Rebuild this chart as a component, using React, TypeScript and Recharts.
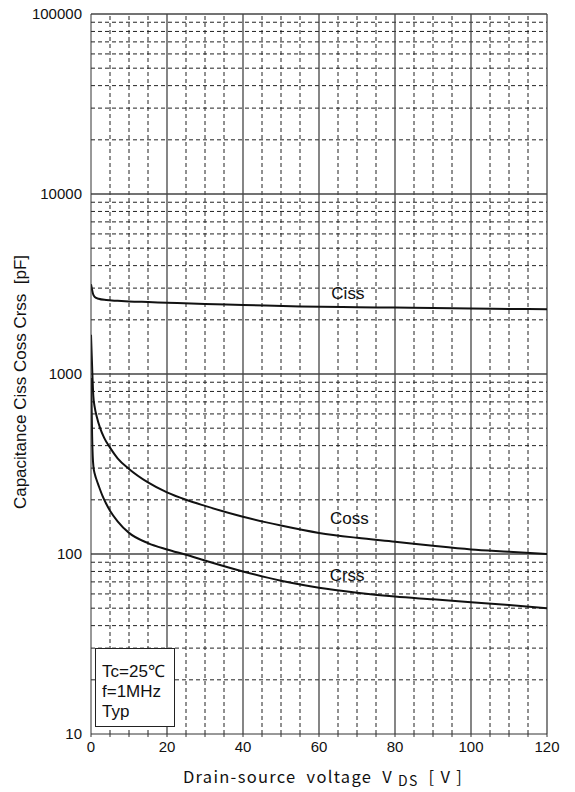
import React from 'react';
import { LineChart, Line, XAxis, YAxis, ReferenceLine, ReferenceDot, Label } from 'recharts';

// ---- data ----
const cissV = [0, 0.2, 0.5, 1, 2, 4, 7, 10, 15, 20, 30, 40, 55, 70, 80, 90, 100, 110, 120];
const cissC = [3150, 3000, 2800, 2680, 2620, 2575, 2550, 2530, 2510, 2490, 2450, 2420, 2370, 2350, 2340, 2330, 2310, 2300, 2290];

const cossV = [0, 0.2, 0.4, 0.6, 1, 1.5, 2.4, 3.5, 5, 7, 10, 15, 20, 25, 30, 40, 50, 60, 70, 80, 90, 100, 110, 120];
const cossC = [1650, 1250, 950, 760, 650, 580, 500, 440, 390, 340, 297, 250, 220, 200, 185, 161, 144, 131, 123, 117, 111, 106, 103, 100];

const crssV = [0, 0.1, 0.2, 0.3, 0.45, 0.65, 1, 1.5, 2, 3, 4, 5, 7, 10, 15, 20, 25, 30, 40, 50, 60, 70, 80, 90, 100, 110, 120];
const crssC = [950, 760, 590, 450, 350, 305, 278, 257, 240, 211, 190, 174, 152, 131, 115, 106, 99, 92, 80, 71, 65, 61, 58, 56, 54, 52, 50];

const xTicks = [0, 5, 10, 15, 20, 25, 30, 35, 40, 45, 50, 55, 60, 65, 70, 75, 80, 85, 90, 95, 100, 105, 110, 115, 120];
const xLabelStep = 20;
const yTicks = [10, 100, 1000, 10000, 100000];
const yTickLabels = ['10', '100', '1000', '10000', '100000'];

const xMajor = [20, 40, 60, 80, 100, 120];
const xMinor = [5, 10, 15, 25, 30, 35, 45, 50, 55, 65, 70, 75, 85, 90, 95, 105, 110, 115];
const yMajor = [100, 1000, 10000, 100000];
const yMinor = [
  20, 30, 40, 50, 60, 70, 80, 90,
  200, 300, 400, 500, 600, 700, 800, 900,
  2000, 3000, 4000, 5000, 6000, 7000, 8000, 9000,
  20000, 30000, 40000, 50000, 60000, 70000, 80000, 90000,
];

const curveNames = ['Ciss', 'Coss', 'Crss'];
const curveLabelV = [67.6, 68, 67.4];
const curveLabelC = [2820, 159, 76];

const conditions = ['Tc=25\u2103', 'f=1MHz', 'Typ'];

const toRows = (vs: number[], cs: number[]) => vs.map((v, i) => ({ v, c: cs[i] }));
const cissData = toRows(cissV, cissC);
const cossData = toRows(cossV, cossC);
const crssData = toRows(crssV, crssC);

const FONT = '"Liberation Sans", Arial, Helvetica, sans-serif';
const GRID_DASH = '4 3';

export default function App() {
  return (
    <div style={{ position: 'absolute', left: 0, top: 0, width: 575, height: 792, background: '#fff' }}>
      <LineChart width={575} height={792} margin={{ top: 14, right: 28, bottom: 0, left: 0 }}>
        <XAxis
          type="number"
          dataKey="v"
          domain={[0, 120]}
          ticks={xTicks}
          interval={0}
          allowDataOverflow
          height={58}
          tickSize={3}
          tickMargin={4}
          stroke="#333"
          tick={{ fill: '#111', fontSize: 15, fontFamily: FONT }}
          tickFormatter={(v: number) => (v % xLabelStep === 0 ? String(v) : '')}
        >
          <Label
            content={() => (
              <text
                x={323}
                y={783}
                textAnchor="middle"
                fontFamily='"Noto Sans CJK JP", "DejaVu Sans", sans-serif'
                fontSize={16.5}
                fill="#111"
                letterSpacing={1.3}
                style={{ whiteSpace: 'pre' }}
              >
                {'Drain-source  voltage  V '}
                <tspan fontSize={14} dy={3}>DS</tspan>
                <tspan dy={-3}>{'  [ V ]'}</tspan>
              </text>
            )}
          />
        </XAxis>
        <YAxis
          type="number"
          scale="log"
          domain={[10, 100000]}
          ticks={yTicks}
          interval={0}
          allowDataOverflow
          width={91}
          tickLine={false}
          tickSize={0}
          tickMargin={9}
          stroke="#333"
          tick={{ fill: '#111', fontSize: 15, fontFamily: FONT }}
          tickFormatter={(v: number) => yTickLabels[yTicks.indexOf(v)] ?? String(v)}
        >
          <Label
            content={() => (
              <text
                x={20}
                y={382}
                transform="rotate(-90 20 382)"
                textAnchor="middle"
                dominantBaseline="central"
                fontFamily={FONT}
                fontSize={17}
                fill="#111"
                style={{ whiteSpace: 'pre' }}
              >
                {'Capacitance Ciss Coss Crss  [pF]'}
              </text>
            )}
          />
        </YAxis>

        {yMinor.map((y) => (
          <ReferenceLine key={'ym' + y} y={y} stroke="#222" strokeWidth={1} strokeDasharray={GRID_DASH} />
        ))}
        {xMinor.map((x) => (
          <ReferenceLine key={'xm' + x} x={x} stroke="#222" strokeWidth={1} strokeDasharray={GRID_DASH} />
        ))}
        {yMajor.map((y) => (
          <ReferenceLine key={'yM' + y} y={y} stroke="#444" strokeWidth={1.3} />
        ))}
        {xMajor.map((x) => (
          <ReferenceLine key={'xM' + x} x={x} stroke="#444" strokeWidth={1.3} />
        ))}

        <Line data={cissData} dataKey="c" type="monotone" stroke="#111" strokeWidth={2} dot={false} isAnimationActive={false} />
        <Line data={cossData} dataKey="c" type="monotone" stroke="#111" strokeWidth={2} dot={false} isAnimationActive={false} />
        <Line data={crssData} dataKey="c" type="monotone" stroke="#111" strokeWidth={2} dot={false} isAnimationActive={false} />

        {curveNames.map((name, i) => (
          <ReferenceDot
            key={name}
            x={curveLabelV[i]}
            y={curveLabelC[i]}
            r={0}
            fill="none"
            stroke="none"
            label={{ value: name, position: 'center', fill: '#111', fontSize: 17, fontFamily: FONT }}
          />
        ))}
      </LineChart>
      <div
        style={{
          position: 'absolute',
          left: 95,
          top: 648,
          width: 80,
          height: 79,
          border: '1.3px solid #222',
          background: '#fff',
          boxSizing: 'border-box',
          fontFamily: FONT,
          fontSize: 17,
          lineHeight: '20px',
          color: '#111',
          padding: '13px 0 0 6px',
        }}
      >
        {conditions.map((t) => (
          <div key={t}>{t}</div>
        ))}
      </div>
    </div>
  );
}
